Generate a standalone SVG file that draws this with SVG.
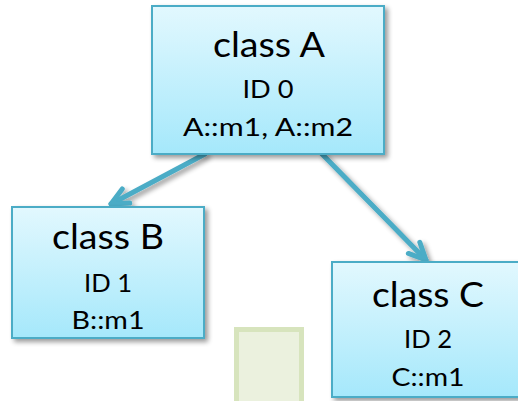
<svg xmlns="http://www.w3.org/2000/svg" width="518" height="401" viewBox="0 0 518 401">
  <style>
    .box { fill: url(#boxFill); stroke: #4bacc6; stroke-width: 2; filter: url(#shadow); }
    .title { font-family: Lato, "Open Sans", "Liberation Sans", sans-serif; font-size: 34px; fill: #000; text-anchor: middle; }
    .line { font-family: Lato, "Open Sans", "Liberation Sans", sans-serif; font-size: 24.5px; fill: #000; text-anchor: middle; }
    .edge { fill: none; stroke: #4bacc6; stroke-width: 5; stroke-linecap: round; marker-end: url(#head); }
  </style>
  <defs>
    <linearGradient id="boxFill" x1="0" y1="0" x2="0" y2="1">
      <stop offset="0" stop-color="#e2f8fe"/>
      <stop offset="1" stop-color="#a5e8fb"/>
    </linearGradient>
    <filter id="shadow" x="-10%" y="-10%" width="130%" height="130%">
      <feGaussianBlur in="SourceAlpha" stdDeviation="2.5"/>
      <feOffset dx="3" dy="3" result="blur"/>
      <feComponentTransfer><feFuncA type="linear" slope="0.4"/></feComponentTransfer>
      <feMerge><feMergeNode/><feMergeNode in="SourceGraphic"/></feMerge>
    </filter>
    <marker id="head" markerUnits="userSpaceOnUse" viewBox="-22 -12 26 24" refX="0" refY="0" markerWidth="26" markerHeight="24" orient="auto" overflow="visible">
      <path d="M-17,-8 L0,0 L-17,8" fill="none" stroke="#4bacc6" stroke-width="5" stroke-linecap="round" stroke-linejoin="round"/>
    </marker>
  </defs>

  <!-- placeholder square at the bottom -->
  <rect x="236.5" y="329.5" width="65" height="80" fill="#ebf1de" stroke="#d7e4bd" stroke-width="5"/>

  <!-- inheritance connectors -->
  <g id="connectors" filter="url(#shadow)">
    <path class="edge" d="M205,154 L111,204"/>
    <path class="edge" d="M322,154 L426,260"/>
  </g>

  <g id="classA">
    <rect class="box" x="152" y="6" width="232" height="148"/>
    <text class="title" x="269" y="57" textLength="112" lengthAdjust="spacingAndGlyphs">class A</text>
    <text class="line" x="268" y="98" textLength="51" lengthAdjust="spacingAndGlyphs">ID 0</text>
    <text class="line" x="268" y="136" textLength="170" lengthAdjust="spacingAndGlyphs">A::m1, A::m2</text>
  </g>

  <g id="classB">
    <rect class="box" x="12" y="207" width="192" height="131"/>
    <text class="title" x="108" y="249" textLength="112" lengthAdjust="spacingAndGlyphs">class B</text>
    <text class="line" x="108" y="292" textLength="48" lengthAdjust="spacingAndGlyphs">ID 1</text>
    <text class="line" x="108" y="329" textLength="73" lengthAdjust="spacingAndGlyphs">B::m1</text>
  </g>

  <g id="classC">
    <rect class="box" x="332" y="262" width="192" height="135"/>
    <text class="title" x="428" y="307" textLength="112" lengthAdjust="spacingAndGlyphs">class C</text>
    <text class="line" x="428" y="348" textLength="48" lengthAdjust="spacingAndGlyphs">ID 2</text>
    <text class="line" x="428" y="386" textLength="73" lengthAdjust="spacingAndGlyphs">C::m1</text>
  </g>
</svg>
